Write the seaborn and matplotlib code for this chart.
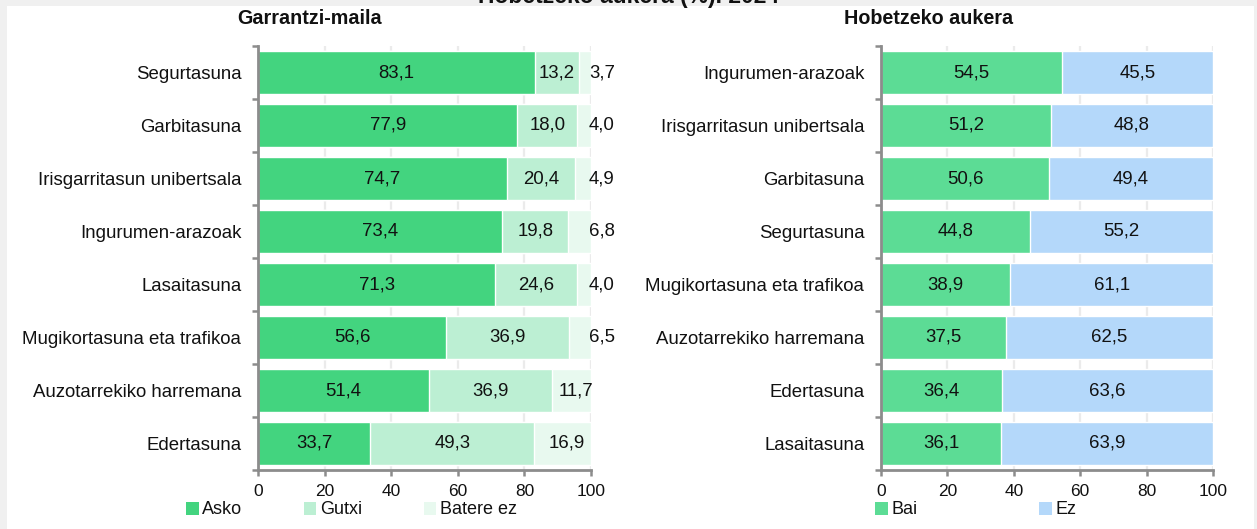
import matplotlib
matplotlib.use("Agg")
import matplotlib.pyplot as plt
from matplotlib.patches import Rectangle, Patch
from matplotlib.ticker import FixedLocator
import numpy as np
import pandas as pd
import seaborn as sns

# Importance level (left panel)
imp_categories = ["Segurtasuna", "Garbitasuna", "Irisgarritasun unibertsala",
                  "Ingurumen-arazoak", "Lasaitasuna", "Mugikortasuna eta trafikoa",
                  "Auzotarrekiko harremana", "Edertasuna"]
asko = [83.1, 77.9, 74.7, 73.4, 71.3, 56.6, 51.4, 33.7]
gutxi = [13.2, 18.0, 20.4, 19.8, 24.6, 36.9, 36.9, 49.3]
batere_ez = [3.7, 4.0, 4.9, 6.8, 4.0, 6.5, 11.7, 16.9]
imp_series = ["Asko", "Gutxi", "Batere ez"]

# Room for improvement (right panel)
imp2_categories = ["Ingurumen-arazoak", "Irisgarritasun unibertsala", "Garbitasuna",
                   "Segurtasuna", "Mugikortasuna eta trafikoa",
                   "Auzotarrekiko harremana", "Edertasuna", "Lasaitasuna"]
bai = [54.5, 51.2, 50.6, 44.8, 38.9, 37.5, 36.4, 36.1]
ez = [45.5, 48.8, 49.4, 55.2, 61.1, 62.5, 63.6, 63.9]
imp2_series = ["Bai", "Ez"]

x_ticks = [0, 20, 40, 60, 80, 100]

C_ASKO, C_GUTXI, C_BATERE = "#43d47f", "#bcefd3", "#e8f9ef"
C_BAI, C_EZ = "#5cdc95", "#b4d8fa"
SPINE = "#8c8c8c"
GRID = "#ebebeb"
TXT = "#111111"
FS = 13.4

sns.set_theme(style="white")
plt.rcParams["font.family"] = ["Liberation Sans", "DejaVu Sans"]

W, H = 1257, 529
fig = plt.figure(figsize=(W / 100, H / 100), dpi=100, facecolor="#f0f0f0")
fig.patches.append(Rectangle((7 / W, 0), (1254 - 7) / W, (H - 6) / H,
                             transform=fig.transFigure, facecolor="white",
                             edgecolor="none", zorder=-5))

ax_top, ax_bot = 46, 470
axL = fig.add_axes([258 / W, 1 - ax_bot / H, (591 - 258) / W, (ax_bot - ax_top) / H])
axR = fig.add_axes([881 / W, 1 - ax_bot / H, (1213 - 881) / W, (ax_bot - ax_top) / H])

BAR_H = 0.83


def stacked(ax, cats, layers, colors):
    """Draw stacked horizontal bars by layering cumulative totals."""
    cum = np.cumsum(np.array(layers), axis=0)
    for k in range(len(layers) - 1, -1, -1):
        df = pd.DataFrame({"cat": cats, "val": cum[k]})
        sns.barplot(data=df, x="val", y="cat", orient="h", color=colors[k],
                    saturation=1, width=BAR_H, ax=ax, zorder=2)
    return cum


def style_axes(ax, n):
    ax.set_facecolor("none")
    ax.set_xlim(0, 100)
    ax.set_ylim(n - 0.5, -0.5)
    ax.set_xlabel("")
    ax.set_ylabel("")
    ax.xaxis.set_major_locator(FixedLocator(x_ticks))
    ax.set_xticklabels([str(v) for v in x_ticks])
    ax.grid(axis="x", color=GRID, lw=1.6, zorder=0)
    ax.grid(axis="y", visible=False)
    ax.set_axisbelow(True)
    for s in ["top", "right"]:
        ax.spines[s].set_visible(False)
    for s in ["left", "bottom"]:
        ax.spines[s].set_color(SPINE)
        ax.spines[s].set_linewidth(2)
        ax.spines[s].set_zorder(4)
    ax.tick_params(axis="x", bottom=True, direction="out", length=4, width=1.8,
                   color=SPINE, labelsize=12.5, labelcolor=TXT, pad=6)
    ax.tick_params(axis="y", which="major", left=False, length=0,
                   labelsize=FS, labelcolor=TXT, pad=12)
    ax.yaxis.set_minor_locator(FixedLocator(np.arange(-0.5, n, 1.0)))
    ax.tick_params(axis="y", which="minor", left=True, direction="out",
                   length=4, width=1.8, color=SPINE)


def fmt(v):
    return f"{v:.1f}".replace(".", ",")


# Left panel
cumL = stacked(axL, imp_categories, [asko, gutxi, batere_ez],
               [C_ASKO, C_GUTXI, C_BATERE])
style_axes(axL, len(imp_categories))
for i in range(len(imp_categories)):
    starts = [0, cumL[0][i], cumL[1][i]]
    widths = [asko[i], gutxi[i], batere_ez[i]]
    for k, (s, w) in enumerate(zip(starts, widths)):
        x = s + w / 2
        if k == 2:
            x = x + 1.3 if w > 10 else 103.3
        axL.text(x, i, fmt(w), ha="center", va="center", fontsize=FS,
                 color=TXT, zorder=5, clip_on=False)

# Right panel
cumR = stacked(axR, imp2_categories, [bai, ez], [C_BAI, C_EZ])
style_axes(axR, len(imp2_categories))
for i in range(len(imp2_categories)):
    axR.text(bai[i] / 2, i, fmt(bai[i]), ha="center", va="center",
             fontsize=FS, color=TXT, zorder=5)
    axR.text(bai[i] + ez[i] / 2, i, fmt(ez[i]), ha="center", va="center",
             fontsize=FS, color=TXT, zorder=5)

# Titles
fig.text(0.5, 1 - 3 / H, "Hobetzeko aukera (%). 2024", ha="center",
         va="baseline", fontsize=16.5, fontweight="bold", color=TXT)
fig.text(310 / W, 1 - 18 / H, "Garrantzi-maila", ha="center", va="center",
         fontsize=14.2, fontweight="bold", color=TXT)
fig.text(929 / W, 1 - 18 / H, "Hobetzeko aukera", ha="center", va="center",
         fontsize=14.2, fontweight="bold", color=TXT)

# Legends
fig.legend(handles=[Patch(facecolor=c, edgecolor="none", label=l)
                    for c, l in zip([C_ASKO, C_GUTXI, C_BATERE], imp_series)],
           loc="center left", bbox_to_anchor=(186 / W, 1 - 510 / H),
           ncol=3, frameon=False, fontsize=13, handlelength=0.7,
           handleheight=0.7, handletextpad=0.2, columnspacing=3.4,
           borderpad=0, borderaxespad=0, labelcolor=TXT)
fig.legend(handles=[Patch(facecolor=c, edgecolor="none", label=l)
                    for c, l in zip([C_BAI, C_EZ], imp2_series)],
           loc="center left", bbox_to_anchor=(875 / W, 1 - 510 / H),
           ncol=2, frameon=False, fontsize=13, handlelength=0.7,
           handleheight=0.7, handletextpad=0.2, columnspacing=6.75,
           borderpad=0, borderaxespad=0, labelcolor=TXT)

fig.savefig("out.png", dpi=100, facecolor=fig.get_facecolor())
